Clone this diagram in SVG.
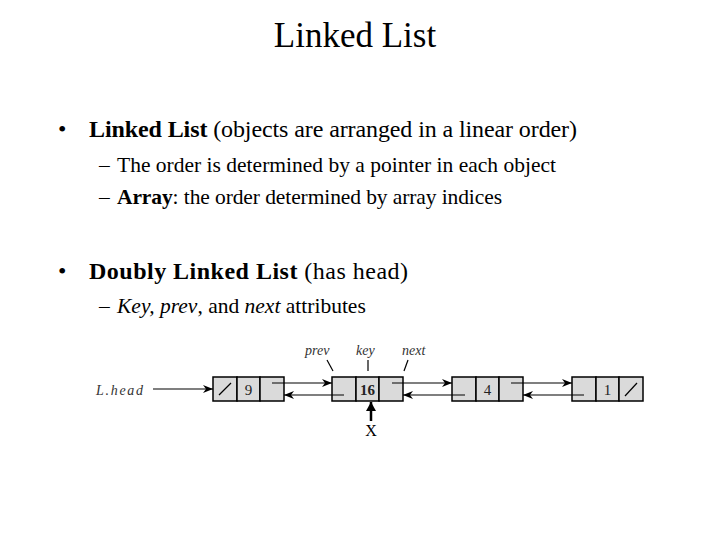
<svg xmlns="http://www.w3.org/2000/svg" width="720" height="540" viewBox="0 0 720 540">
<style>
  text { font-family: "Liberation Serif", "Times New Roman", serif; fill: #000; }
  .title { font-size: 35px; }
  .b1 { font-size: 24px; }
  .b2 { font-size: 21.5px; }
  .bold { font-weight: bold; }
  .it { font-style: italic; }
  .lbl { font-size: 14px; font-style: italic; fill: #333; }
  .num { font-size: 15px; fill: #222; text-anchor: middle; }
  .cell { fill: #dadada; stroke: #000; stroke-width: 1.5; }
  .ln { stroke: #000; stroke-width: 1.2; fill: none; }
  .ptr { stroke: #000; stroke-width: 1.2; fill: none; marker-end: url(#ah); }
</style>
<defs>
  <marker id="ah" markerWidth="10" markerHeight="8" refX="10" refY="4" orient="auto" markerUnits="userSpaceOnUse">
    <path d="M0,0 L10,4 L0,8 L3,4 Z" fill="#000"/>
  </marker>
  <marker id="ahx" markerWidth="10" markerHeight="10" refX="9" refY="5" orient="auto" markerUnits="userSpaceOnUse">
    <path d="M0,0 L9,5 L0,10 Z" fill="#000"/>
  </marker>
</defs>
<rect width="720" height="540" fill="#fff"/>

<g id="title">
  <text class="title" x="355" y="47" text-anchor="middle">Linked List</text>
</g>

<g id="bullets">
  <text class="b1" x="58" y="137">•</text>
  <text class="b1" x="89" y="137" textLength="488" lengthAdjust="spacing"><tspan class="bold">Linked List</tspan> (objects are arranged in a linear order)</text>
  <text class="b2" x="99" y="172">–</text>
  <text class="b2" x="117" y="172" textLength="439" lengthAdjust="spacing">The order is determined by a pointer in each object</text>
  <text class="b2" x="99" y="204">–</text>
  <text class="b2" x="117" y="204" textLength="385" lengthAdjust="spacing"><tspan class="bold">Array</tspan>: the order determined by array indices</text>
  <text class="b1" x="58" y="279">•</text>
  <text class="b1" x="89" y="279" textLength="319" lengthAdjust="spacing"><tspan class="bold">Doubly Linked List</tspan> (has head)</text>
  <text class="b2" x="99" y="313">–</text>
  <text class="b2" x="117" y="313"><tspan class="it">Key, prev</tspan>, and <tspan class="it">next</tspan> attributes</text>
</g>

<g id="lhead">
  <text class="lbl" x="96" y="395" font-size="16" textLength="47" lengthAdjust="spacing">L.head</text>
</g>

<g id="node9">
  <rect class="cell" x="213" y="377" width="24" height="24"/>
  <rect class="cell" x="237" y="377" width="23" height="24"/>
  <rect class="cell" x="260" y="377" width="24" height="24"/>
  <line class="ln" x1="219" y1="395" x2="231" y2="383"/>
  <text class="num" x="248.5" y="395">9</text>
</g>

<g id="node16">
  <rect class="cell" x="332" y="377" width="24" height="24"/>
  <rect class="cell" x="356" y="377" width="23" height="24"/>
  <rect class="cell" x="379" y="377" width="24" height="24"/>
  <text class="num" x="367.5" y="395" font-weight="bold">16</text>
</g>

<g id="node4">
  <rect class="cell" x="452" y="377" width="24" height="24"/>
  <rect class="cell" x="476" y="377" width="23" height="24"/>
  <rect class="cell" x="499" y="377" width="24" height="24"/>
  <text class="num" x="487.5" y="395">4</text>
</g>

<g id="node1">
  <rect class="cell" x="572" y="377" width="24" height="24"/>
  <rect class="cell" x="596" y="377" width="23" height="24"/>
  <rect class="cell" x="619" y="377" width="24" height="24"/>
  <line class="ln" x1="625" y1="396" x2="637" y2="383"/>
  <text class="num" x="607.5" y="395">1</text>
</g>

<g id="labels">
  <text class="lbl" x="305" y="355">prev</text>
  <text class="lbl" x="356" y="355">key</text>
  <text class="lbl" x="402" y="355">next</text>
  <line class="ln" x1="327" y1="360" x2="333" y2="371"/>
  <line class="ln" x1="368" y1="360" x2="368" y2="371"/>
  <line class="ln" x1="408" y1="360" x2="404" y2="371"/>
</g>

<g id="x-pointer">
  <text x="371" y="436" font-size="16" text-anchor="middle">X</text>
</g>

<g id="connectors">
  <line class="ptr" x1="153" y1="389" x2="213" y2="389"/>
  <line class="ptr" x1="272" y1="383" x2="332" y2="383"/>
  <line class="ptr" x1="392" y1="383" x2="452" y2="383"/>
  <line class="ptr" x1="511" y1="383" x2="572" y2="383"/>
  <line class="ptr" x1="344" y1="395" x2="284" y2="395"/>
  <line class="ptr" x1="465" y1="395" x2="403" y2="395"/>
  <line class="ptr" x1="584" y1="395" x2="523" y2="395"/>
  <line x1="371" y1="421" x2="371" y2="402" stroke="#000" stroke-width="2.5" marker-end="url(#ahx)"/>
</g>
</svg>
